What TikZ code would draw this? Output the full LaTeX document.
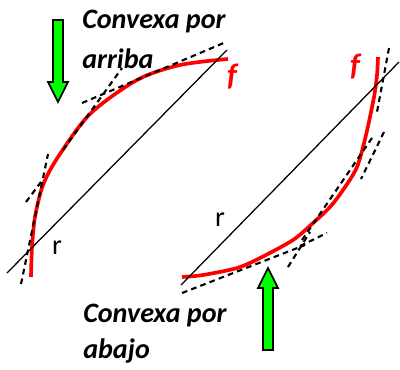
\documentclass[tikz,border=0pt]{standalone}
\usepackage{fontspec}
\setmainfont{Carlito}
\begin{document}
\begin{tikzpicture}[x=0.025cm,y=-0.025cm,
  lbl/.style={font=\fontsize{20}{24}\selectfont\bfseries\itshape,anchor=base west,inner sep=0pt},
  fname/.style={font=\fontsize{22}{26}\selectfont\bfseries\itshape,text=red,inner sep=0pt},
  rname/.style={font=\fontsize{20}{24}\selectfont,inner sep=0pt},
  curve/.style={red,line width=2.6pt},
  secant/.style={black,line width=0.9pt},
  tang/.style={black,line width=1.5pt,dash pattern=on 4pt off 3pt},
  garrow/.style={draw=black,fill=green,line width=1.2pt,line join=miter}]
\useasboundingbox (0,0) rectangle (400,369);
% convexa por arriba
\draw[curve] plot[smooth,tension=0.5] coordinates {(31,277) (32,247) (35,217) (43,185) (58,157) (90,114) (137,80) (180,65) (228,59)};
\draw[tang] (21,284) -- (48,154);
\draw[tang] (26,202) -- (41,182);
\draw[tang] (63,150) -- (122,68);
\draw[tang] (82,103) -- (226,42);
\draw[secant] (7,273) -- (227,50);
\node[rname] (r1) at (57,248) {r};
\node[fname] (f1) at (232,77) {f};
\draw[garrow] (53,20) -- (63,20) -- (63,82) -- (68,82) -- (58,102) -- (48,82) -- (53,82) -- cycle;
\node[lbl] (t1) at (82,28) {Convexa por};
\node[lbl] (t2) at (82,68) {arriba};
% convexa por abajo
\draw[curve] plot[smooth,tension=0.5] coordinates {(182,277) (203,275) (237,268) (260,258) (293,240) (313,223) (330,207) (343,190) (357,167) (366,135) (374,97) (377,75) (378,57)};
\draw[tang] (389,48) -- (377,112);
\draw[tang] (384,132) -- (361,179);
\draw[tang] (372,138) -- (300,243);
\draw[tang] (288,267) -- (310,232);
\draw[tang] (300,246) -- (327,233);
\draw[tang] (182,293) -- (305,245);
\draw[secant] (181,285) -- (399,62);
\node[rname] (r2) at (220,220) {r};
\node[fname] (f2) at (355,67) {f};
\draw[garrow] (263,350) -- (273,350) -- (273,288) -- (278,288) -- (268,268) -- (258,288) -- (263,288) -- cycle;
\node[lbl] (t3) at (83,322) {Convexa por};
\node[lbl] (t4) at (83,358) {abajo};
\end{tikzpicture}
\end{document}
